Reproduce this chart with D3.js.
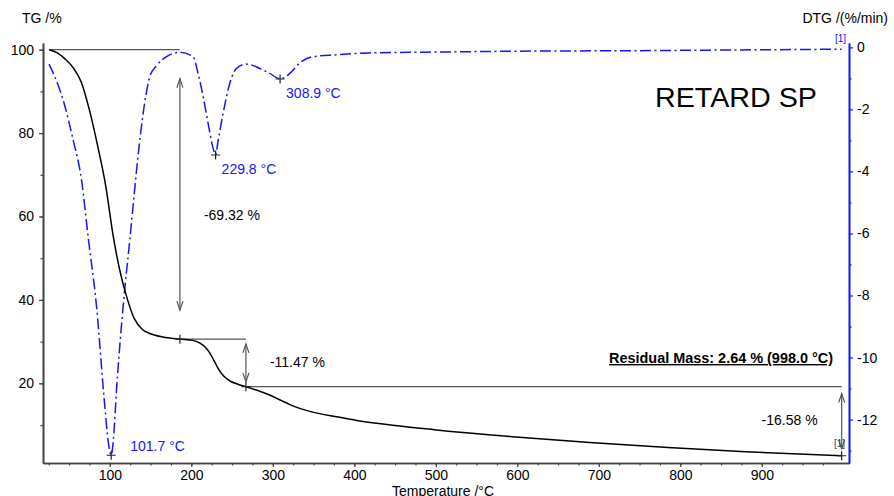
<!DOCTYPE html>
<html>
<head>
<meta charset="utf-8">
<script src="https://cdn.jsdelivr.net/npm/d3@7"></script>
<style>
  body { margin: 0; background: #fff; }
  svg { display: block; font-family: "Liberation Sans", Arial, sans-serif; }
</style>
</head>
<body>
<svg id="chart"></svg>
<script>
// TG curve: mass (%) against temperature (°C)
const tgTemp = [25.5, 35, 45, 55, 65, 75, 85, 95, 104, 112, 120, 130, 140, 150, 165, 186,
    202, 210, 216, 222, 228, 234, 240, 248, 257, 267, 284, 296, 309, 321, 333, 349, 378,
    403, 450, 498, 594, 689, 785, 880, 998];
const tgMass = [100, 99.3, 97.8, 95.7, 92.2, 85.5, 77, 67.3, 55.5, 47.3, 41.2, 35.5, 32.9, 31.9, 31.1, 30.6,
    30.3, 29.7, 28.9, 27.5, 25.4, 23.2, 21.7, 20.5, 19.8, 19.2, 18.1, 17.2, 16.0, 14.9, 14.0, 13.1, 12.0,
    11.1, 9.9, 8.9, 7.2, 5.8, 4.6, 3.6, 2.64];

// DTG curve: rate (%/min) against temperature (°C)
const dtgTemp = [25.5, 30, 42.7, 55, 65.3, 73.4, 83.7, 93.9, 98, 101.7, 104.5, 108.2, 116.3, 124.5,
    136.8, 143, 149, 157, 169.6, 185.9, 202, 208.3, 214.5, 220.6, 226.7, 229.8, 232.9, 239,
    247.2, 255.5, 267.7, 284, 296.3, 308.9, 320.9, 333.1, 349.4, 378, 417, 508, 617, 726, 836, 998];
const dtgRate = [-0.54, -0.8, -1.70, -2.99, -4.28, -6.11, -8.36, -11.59, -12.7, -13.15, -12.6, -11.05, -8.36, -6.21,
    -2.99, -1.75, -0.95, -0.6, -0.3, -0.16, -0.3, -0.84, -1.59, -2.45, -3.25, -3.47, -3.0, -2.13,
    -1.16, -0.68, -0.54, -0.68, -0.84, -1.02, -0.84, -0.50, -0.30, -0.24, -0.18, -0.15, -0.12, -0.11, -0.09, -0.06];

// DTG peaks
const peakTemp = [101.7, 229.8, 308.9];
const peakRate = [-13.15, -3.47, -1.02];
const peakLabels = ["101.7 °C", "229.8 °C", "308.9 °C"];

// mass steps
const stepTemp = [25.5, 186, 267, 998];
const stepMass = [100, 30.6, 19.2, 2.64];
const stepLabels = ["-69.32 %", "-11.47 %", "-16.58 %"];

const xTicks = [100, 200, 300, 400, 500, 600, 700, 800, 900];
const tgTicks = [20, 40, 60, 80, 100];
const dtgTicks = [0, -2, -4, -6, -8, -10, -12];

const width = 894, height = 496;
const plotLeft = 43, plotRight = 849, plotTop = 43, plotBottom = 463;
const blue = "#1414ff";

const svg = d3.select("#chart")
    .attr("width", width)
    .attr("height", height)
    .attr("viewBox", [0, 0, width, height]);

const x = d3.scaleLinear([18, 1007], [plotLeft, plotRight]);
const yTG = d3.scaleLinear([0.9, 101.6], [plotBottom, plotTop]);
const yDTG = d3.scaleLinear([-13.4, 0.14], [plotBottom, plotTop]);

// plain hyphen for negatives, like the original software
const plain = d => String(d);

// axes: minor ticks first, then labelled majors
function styleAxis(g, color) {
    g.select(".domain").attr("stroke", color).attr("stroke-width", 1.6);
    g.selectAll(".tick line").attr("stroke", color).attr("stroke-width", 1.2);
    g.selectAll(".tick text").attr("fill", "#000").style("font-size", "14px")
        .style("font-family", "'Liberation Sans', Arial, sans-serif");
}

svg.append("g")
    .attr("transform", `translate(0,${plotBottom})`)
    .call(d3.axisBottom(x).tickValues(d3.range(25, 1000, 25)).tickSize(2.5).tickSizeOuter(0).tickFormat(""))
    .call(g => styleAxis(g, "#444"));
svg.append("g")
    .attr("transform", `translate(0,${plotBottom})`)
    .call(d3.axisBottom(x).tickValues(xTicks).tickSize(4).tickSizeOuter(0).tickPadding(3).tickFormat(plain))
    .call(g => styleAxis(g, "#444"));

svg.append("g")
    .attr("transform", `translate(${plotLeft},0)`)
    .call(d3.axisLeft(yTG).tickValues(d3.range(10, 101, 10)).tickSize(2.5).tickSizeOuter(0).tickFormat(""))
    .call(g => styleAxis(g, "#444"));
svg.append("g")
    .attr("transform", `translate(${plotLeft},0)`)
    .call(d3.axisLeft(yTG).tickValues(tgTicks).tickSize(4).tickSizeOuter(0).tickPadding(5).tickFormat(plain))
    .call(g => styleAxis(g, "#444"));

svg.append("g")
    .attr("transform", `translate(${plotRight},0)`)
    .call(d3.axisRight(yDTG).tickValues(d3.range(-13, 0, 2)).tickSize(2.5).tickSizeOuter(0).tickFormat(""))
    .call(g => styleAxis(g, blue));
svg.append("g")
    .attr("transform", `translate(${plotRight},0)`)
    .call(d3.axisRight(yDTG).tickValues(dtgTicks).tickSize(4).tickSizeOuter(0).tickPadding(4).tickFormat(plain))
    .call(g => styleAxis(g, blue));

// axis titles
svg.append("text").attr("x", 22).attr("y", 23).style("font-size", "14px").text("TG /%");
svg.append("text").attr("x", 888).attr("y", 23).attr("text-anchor", "end")
    .style("font-size", "14px").text("DTG /(%/min)");
svg.append("text").attr("x", 443).attr("y", 495.5).attr("text-anchor", "middle")
    .style("font-size", "14px").text("Temperature /°C");

svg.append("text").attr("x", 655).attr("y", 107)
    .attr("textLength", 162).attr("lengthAdjust", "spacingAndGlyphs")
    .style("font-size", "27px").text("RETARD SP");

// step construction lines and arrows
const grey = "#555";
const ann = svg.append("g").attr("stroke", grey).attr("stroke-width", 1.2).attr("fill", "none");

stepLabels.forEach((label, i) => {
    const t0 = stepTemp[i], t1 = stepTemp[i + 1];
    const m0 = stepMass[i], m1 = stepMass[i + 1];
    const ax = x(t1);

    ann.append("line")
        .attr("x1", x(t0)).attr("x2", ax)
        .attr("y1", yTG(m0)).attr("y2", yTG(m0));

    const inset = (m0 - m1) * 0.1;
    const ya = yTG(m0 - inset), yb = yTG(m1 + inset);
    ann.append("line").attr("x1", ax).attr("x2", ax).attr("y1", ya).attr("y2", yb);
    ann.append("path").attr("d", `M${ax - 3},${ya + 9}L${ax},${ya}L${ax + 3},${ya + 9}`);
    ann.append("path").attr("d", `M${ax - 3},${yb - 9}L${ax},${yb}L${ax + 3},${yb - 9}`);

    const mid = yTG((m0 + m1) / 2) + 4 + (i === 0 ? 22 : 0);
    const last = i === stepLabels.length - 1;
    svg.append("text")
        .attr("x", last ? ax - 24 : ax + 24)
        .attr("y", mid)
        .attr("text-anchor", last ? "end" : "start")
        .style("font-size", "14px")
        .text(label);
});

// curves
svg.append("path")
    .datum(dtgTemp.map((t, i) => [t, dtgRate[i]]))
    .attr("fill", "none")
    .attr("stroke", blue)
    .attr("stroke-width", 1.5)
    .attr("stroke-dasharray", "11,3.5,2,3.5")
    .attr("d", d3.line().x(d => x(d[0])).y(d => yDTG(d[1])).curve(d3.curveMonotoneX));

svg.append("path")
    .datum(tgTemp.map((t, i) => [t, tgMass[i]]))
    .attr("fill", "none")
    .attr("stroke", "#000")
    .attr("stroke-width", 1.5)
    .attr("d", d3.line().x(d => x(d[0])).y(d => yTG(d[1])).curve(d3.curveMonotoneX));

// markers
const plus = "M-4.5,0H4.5M0,-4.5V4.5";
const marks = svg.append("g").attr("stroke", "#222").attr("stroke-width", 1.2);
stepTemp.slice(1).forEach((t, i) => {
    marks.append("path").attr("d", plus)
        .attr("transform", `translate(${x(t)},${yTG(stepMass[i + 1])})`);
});
peakTemp.forEach((t, i) => {
    marks.append("path").attr("d", plus)
        .attr("transform", `translate(${x(t)},${yDTG(peakRate[i])})`);
    svg.append("text")
        .attr("x", x(t) + (i === 0 ? 19 : 6))
        .attr("y", yDTG(peakRate[i]) + (i === 0 ? -4 : 19))
        .attr("fill", blue)
        .style("font-size", "14px")
        .text(peakLabels[i]);
});

// curve tags
svg.append("text").attr("x", 835).attr("y", 42).attr("fill", blue)
    .style("font-size", "10px").text("[1]");
svg.append("text").attr("x", 834).attr("y", 447).attr("fill", "#444")
    .style("font-size", "10px").text("[1]");

svg.append("text")
    .attr("x", 833).attr("y", 363)
    .attr("text-anchor", "end")
    .attr("textLength", 224).attr("lengthAdjust", "spacingAndGlyphs")
    .style("font-size", "14px")
    .style("font-weight", "bold")
    .style("text-decoration", "underline")
    .text("Residual Mass: 2.64 % (998.0 °C)");
</script>
</body>
</html>
